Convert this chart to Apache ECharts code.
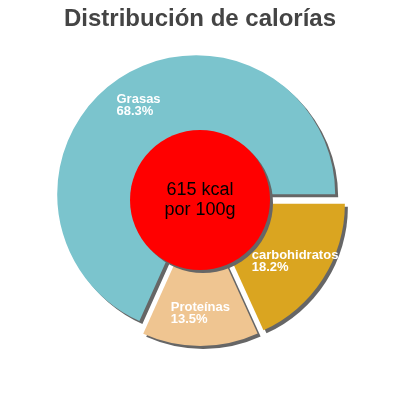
<!DOCTYPE html>
<html>
<head>
<meta charset="utf-8">
<script src="https://cdn.jsdelivr.net/npm/echarts@6/dist/echarts.min.js"></script>
<style>html,body{margin:0;padding:0;background:#fff}#c{width:400px;height:400px}</style>
</head>
<body>
<div id="c"></div>
<script>
const titleText = 'Distribución de calorías';
const categories = ['Grasas', 'Proteínas', 'carbohidratos'];
const percentValues = [68.3, 13.5, 18.2];
const centerLines = ['615 kcal', 'por 100g'];
const sliceColors = ['#7bc4cd', '#efc591', '#daa520'];

const FONT = '"Liberation Sans", Arial, sans-serif';
const chart = echarts.init(document.getElementById('c'), null, {renderer: 'canvas'});

const shadow = {shadowColor: '#666666', shadowBlur: 0, shadowOffsetX: 3, shadowOffsetY: 3};

const mainData = categories.map((n, i) => ({
  name: n, value: percentValues[i], selected: true,
  itemStyle: Object.assign({color: sliceColors[i]}, shadow)
}));
const labelData = categories.map((n, i) => ({
  name: n, value: percentValues[i], selected: true
}));

chart.setOption({
  animation: false,
  title: {
    text: titleText, left: 'center', top: 2,
    textStyle: {fontFamily: FONT, fontSize: 24, fontWeight: 'bold', color: '#444444'}
  },
  series: [
    {
      type: 'pie', center: [200, 200], radius: 139,
      startAngle: 0, clockwise: false,
      selectedMode: 'multiple', selectedOffset: 7,
      data: mainData,
      label: {show: false}, labelLine: {show: false},
      emphasis: {disabled: true}, silent: true
    },
    {
      type: 'pie', center: [200, 200], radius: [67, 139],
      startAngle: 0, clockwise: false,
      selectedMode: 'multiple', selectedOffset: 7,
      data: labelData,
      itemStyle: {color: 'rgba(0,0,0,0)'},
      label: {
        show: true, position: 'inside',
        formatter: p => '{a|' + p.name + '}\n{a|' + p.value + '%}',
        rich: {a: {align: 'left', color: '#ffffff', fontFamily: FONT, fontSize: 13, fontWeight: 'bold', lineHeight: 12}}
      },
      labelLine: {show: false},
      emphasis: {disabled: true}, silent: true
    },
    {
      type: 'pie', center: [200, 200], radius: [0, 70],
      data: [{value: 1, name: 'total', itemStyle: Object.assign({color: '#ff0000'}, shadow)}],
      label: {
        show: true, position: 'center',
        formatter: centerLines.join('\n'),
        color: '#000000', fontFamily: FONT, fontSize: 18, lineHeight: 20
      },
      labelLine: {show: false},
      emphasis: {disabled: true}, silent: true
    }
  ]
});
</script>
</body>
</html>
